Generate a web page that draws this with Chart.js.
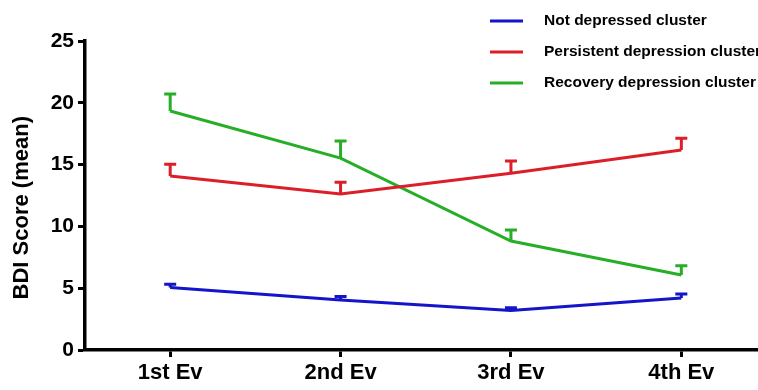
<!DOCTYPE html>
<html><head><meta charset="utf-8">
<script src="https://cdn.jsdelivr.net/npm/chart.js@4/dist/chart.umd.min.js"></script>
<style>html,body{margin:0;padding:0;background:#fff;}#wrap{width:758px;height:390px;position:relative;}</style>
</head><body><div id="wrap"><canvas id="c"></canvas></div>
<script>
const categories = ['1st Ev', '2nd Ev', '3rd Ev', '4th Ev'];
const seriesNames = ['Not depressed cluster', 'Persistent depression cluster', 'Recovery depression cluster'];
const notDepressed = [5.05, 4.05, 3.2, 4.2];
const notDepressedErr = [0.27, 0.27, 0.22, 0.33];
const persistent = [14.08, 12.62, 14.3, 16.18];
const persistentErr = [0.95, 0.95, 1.0, 0.95];
const recovery = [19.34, 15.53, 8.82, 6.07];
const recoveryErr = [1.38, 1.38, 0.88, 0.75];
const yTicks = [0, 5, 10, 15, 20, 25];
const yTitle = 'BDI Score (mean)';

const colors = ['#1414c8', '#dc1e28', '#26ae26'];
const FONT = "'Liberation Sans', Arial, sans-serif";
Chart.defaults.font.family = FONT;
Chart.defaults.font.weight = 'bold';
Chart.defaults.color = '#000';

const seriesValues = [notDepressed, persistent, recovery];
const seriesErrors = [notDepressedErr, persistentErr, recoveryErr];

const datasets = seriesValues.map((vals, s) => ({
  label: seriesNames[s],
  data: vals.map((v, i) => ({x: i + 1, y: v})),
  errors: seriesErrors[s],
  borderColor: colors[s],
  backgroundColor: colors[s],
  borderWidth: 3,
  pointRadius: 0,
  tension: 0,
  clip: false
}));

const errorBars = {
  id: 'errorBars',
  afterDatasetsDraw(chart) {
    const {ctx, scales: {x, y}} = chart;
    ctx.save();
    chart.data.datasets.forEach(ds => {
      ctx.strokeStyle = ds.borderColor;
      ctx.lineWidth = 3;
      ds.data.forEach((p, i) => {
        const px = x.getPixelForValue(p.x);
        const py = y.getPixelForValue(p.y);
        const pt = y.getPixelForValue(p.y + ds.errors[i]);
        ctx.beginPath();
        ctx.moveTo(px, py);
        ctx.lineTo(px, pt);
        ctx.moveTo(px - 6, pt);
        ctx.lineTo(px + 6, pt);
        ctx.stroke();
      });
    });
    ctx.restore();
  }
};

const customLegend = {
  id: 'customLegend',
  afterDraw(chart) {
    const ctx = chart.ctx;
    ctx.save();
    ctx.font = 'bold 15.5px ' + FONT;
    ctx.textBaseline = 'middle';
    ctx.textAlign = 'left';
    chart.data.datasets.forEach((ds, i) => {
      const ly = 21 + i * 31;
      ctx.strokeStyle = ds.borderColor;
      ctx.lineWidth = 3;
      ctx.beginPath();
      ctx.moveTo(490, ly);
      ctx.lineTo(523, ly);
      ctx.stroke();
      ctx.fillStyle = '#000';
      ctx.fillText(ds.label, 544, ly);
    });
    ctx.restore();
  }
};

new Chart(document.getElementById('c'), {
  type: 'line',
  data: {datasets},
  options: {
    responsive: true,
    maintainAspectRatio: false,
    animation: false,
    devicePixelRatio: 1,
    layout: {padding: {top: 41, right: 0, left: 0, bottom: 0}},
    plugins: {legend: {display: false}, tooltip: {enabled: false}},
    scales: {
      x: {
        type: 'linear',
        min: 0.5,
        max: 4.45,
        afterBuildTicks(scale) { scale.ticks = categories.map((c, i) => ({value: i + 1})); },
        ticks: {
          callback: (v) => categories[v - 1] || '',
          font: {size: 22, weight: 'bold'},
          padding: 3,
          maxRotation: 0,
          autoSkip: false
        },
        grid: {drawOnChartArea: false, drawTicks: true, tickLength: 7, tickWidth: 3, color: '#000'},
        border: {display: true, color: '#000', width: 3.5},
        afterFit(scale) { scale.height = 40; }
      },
      y: {
        min: 0,
        max: 25,
        afterBuildTicks(scale) { scale.ticks = yTicks.map(v => ({value: v})); },
        ticks: {font: {size: 21, weight: 'bold'}, padding: 4},
        grid: {drawOnChartArea: false, drawTicks: true, tickLength: 7, tickWidth: 3, color: '#000'},
        border: {display: true, color: '#000', width: 3.5},
        title: {display: true, text: yTitle + '    ', font: {size: 22, weight: 'bold'}, padding: {top: 9, bottom: 0}},
        afterFit(scale) { scale.width = 85; }
      }
    }
  },
  plugins: [errorBars, customLegend]
});
</script>
</body></html>
